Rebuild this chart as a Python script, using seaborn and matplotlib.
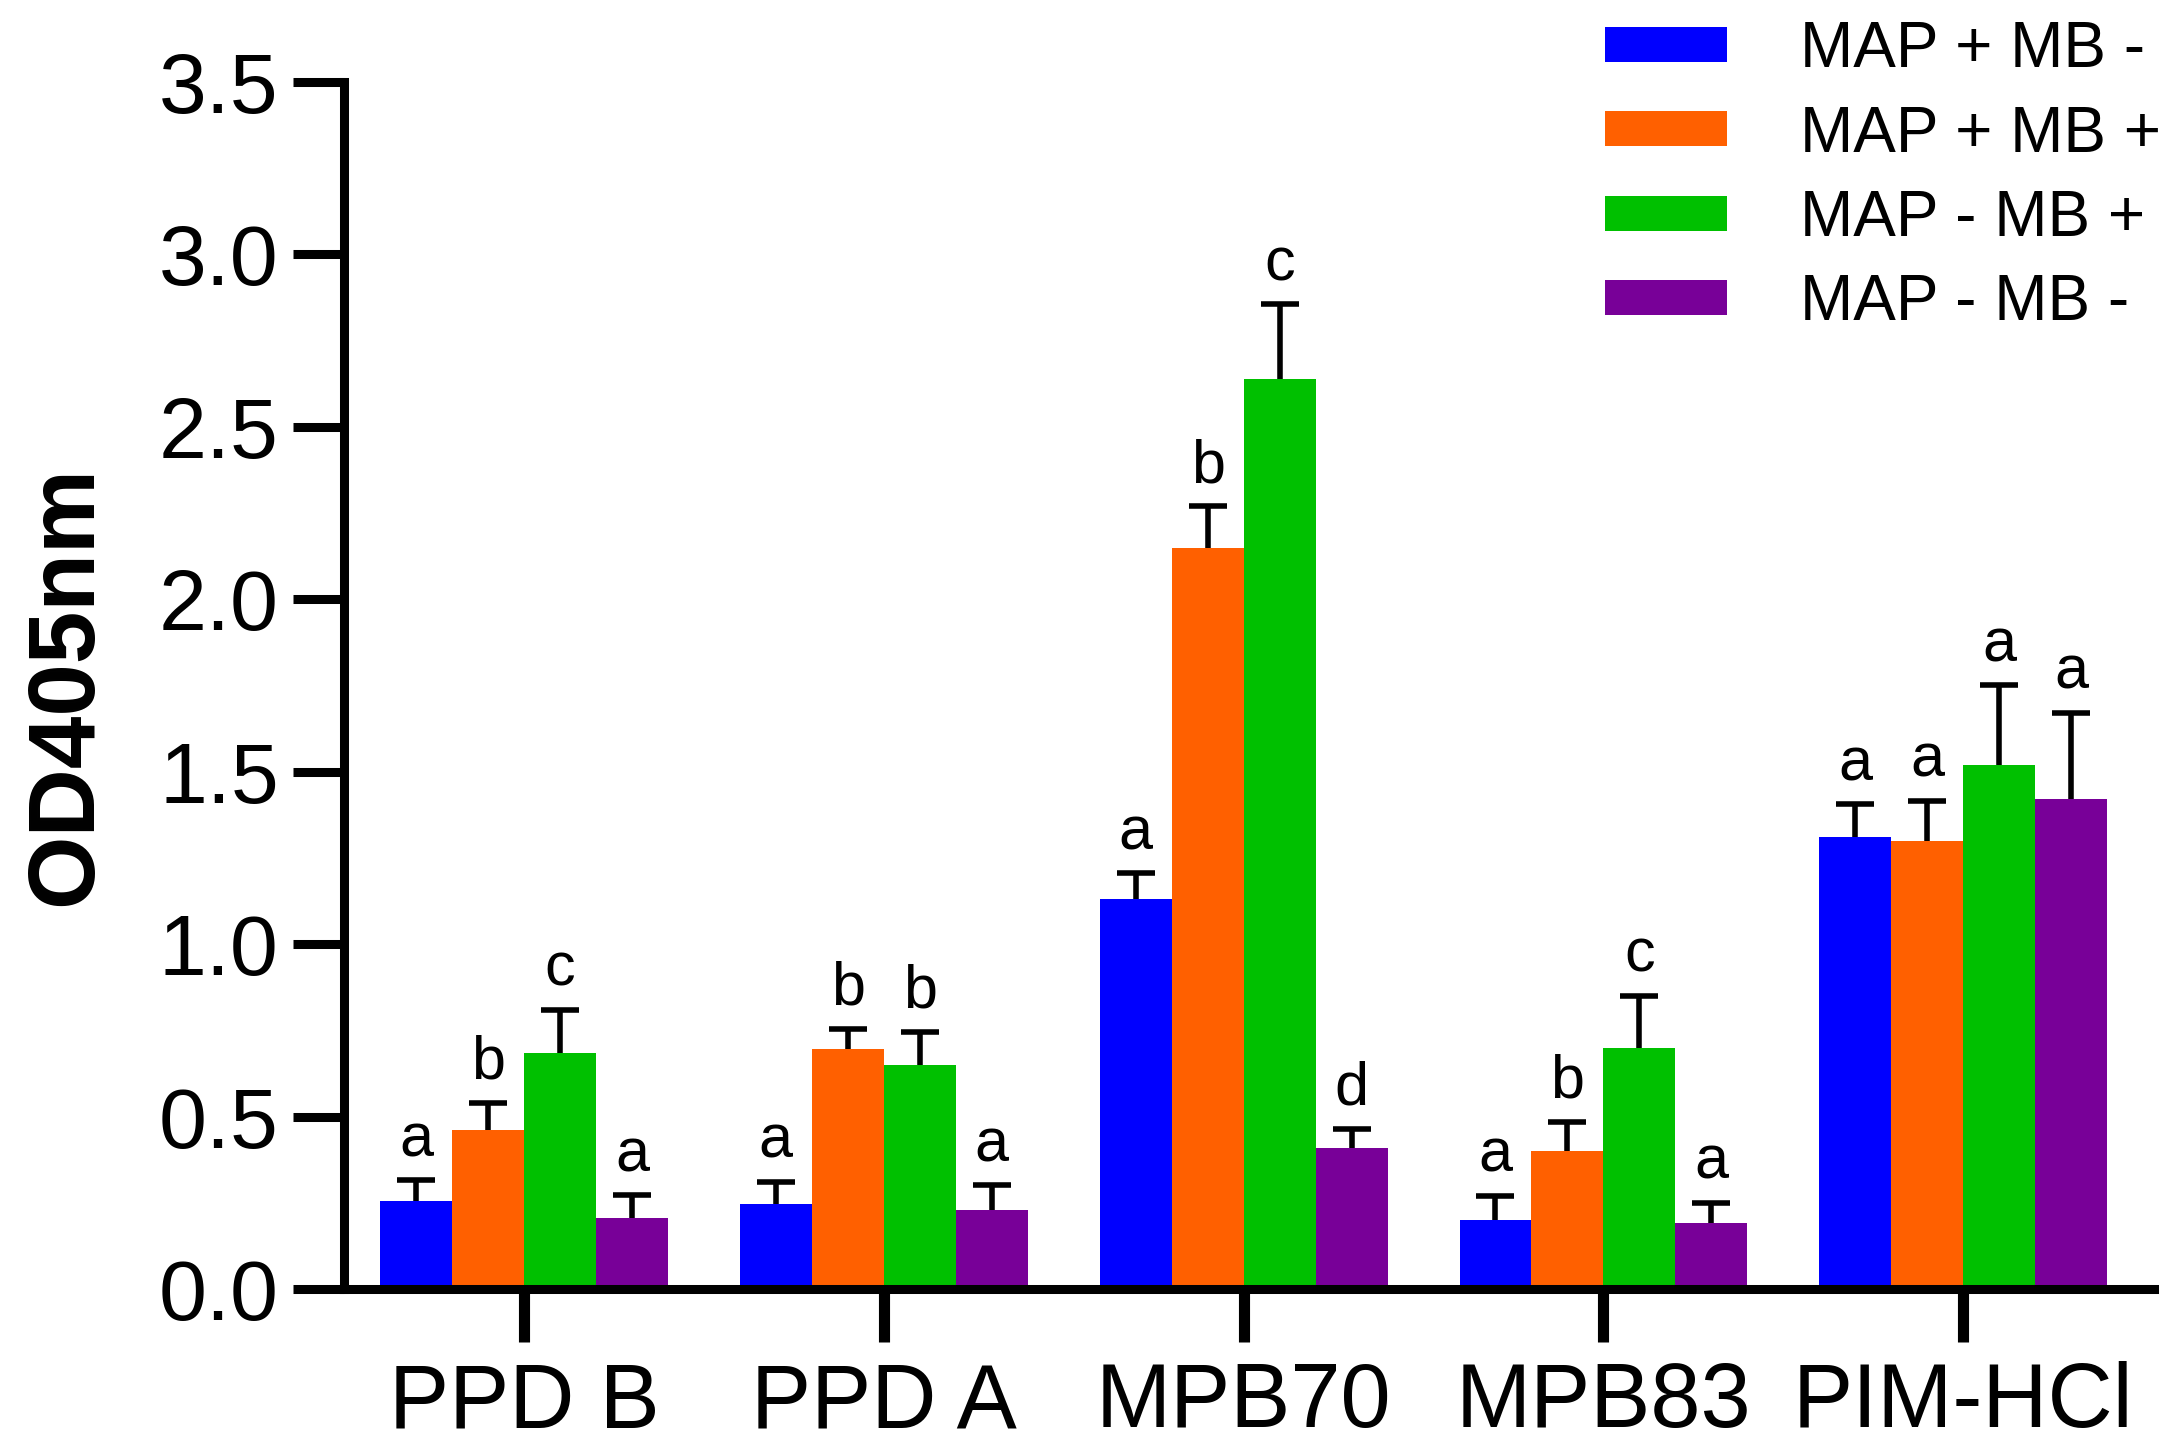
import numpy as np
import pandas as pd
import seaborn as sns
import matplotlib.pyplot as plt

antigens = ['PPD B', 'PPD A', 'MPB70', 'MPB83', 'PIM-HCl']
groups = ['MAP + MB -', 'MAP + MB +', 'MAP - MB +', 'MAP - MB -']
colors = ['#0000ff', '#ff6000', '#00c000', '#780098']

# mean OD per group, one list per group (order follows antigens)
map_pos_mb_neg = [0.255, 0.245, 1.13, 0.20, 1.31]
map_pos_mb_pos = [0.46, 0.695, 2.15, 0.40, 1.30]
map_neg_mb_pos = [0.685, 0.65, 2.64, 0.70, 1.52]
map_neg_mb_neg = [0.207, 0.23, 0.41, 0.19, 1.42]

# upper error (SD) per group
err_pos_neg = [0.06, 0.065, 0.075, 0.07, 0.095]
err_pos_pos = [0.08, 0.06, 0.12, 0.085, 0.115]
err_neg_pos = [0.125, 0.095, 0.215, 0.15, 0.23]
err_neg_neg = [0.065, 0.07, 0.055, 0.06, 0.25]

# significance letters
let_pos_neg = ['a', 'a', 'a', 'a', 'a']
let_pos_pos = ['b', 'b', 'b', 'b', 'a']
let_neg_pos = ['c', 'b', 'c', 'c', 'a']
let_neg_neg = ['a', 'a', 'd', 'a', 'a']

means = [map_pos_mb_neg, map_pos_mb_pos, map_neg_mb_pos, map_neg_mb_neg]
errs = [err_pos_neg, err_pos_pos, err_neg_pos, err_neg_neg]
letters = [let_pos_neg, let_pos_pos, let_neg_pos, let_neg_neg]

rows = []
for g, vals in zip(groups, means):
    for a, v in zip(antigens, vals):
        rows.append({'antigen': a, 'group': g, 'od': v})
df = pd.DataFrame(rows)

sns.set_style('ticks', rc={'axes.edgecolor': 'black', 'text.color': 'black',
                           'axes.labelcolor': 'black', 'xtick.color': 'black',
                           'ytick.color': 'black'})
plt.rcParams['font.family'] = ['Liberation Sans', 'DejaVu Sans']

fig = plt.figure(figsize=(21.72, 14.52), dpi=100)
ax = fig.add_axes([0.1584, 0.1123, 0.8333, 0.8312])

sns.barplot(data=df, x='antigen', y='od', hue='group', order=antigens,
            hue_order=groups, palette=colors, errorbar=None, width=0.8,
            saturation=1, linewidth=0, ax=ax)

# one-sided error bars and letters on top of each bar
for cont, err, lets in zip(ax.containers, errs, letters):
    xs = [p.get_x() + p.get_width() / 2 for p in cont.patches]
    ys = [p.get_height() for p in cont.patches]
    eb = ax.errorbar(xs, ys, yerr=[np.zeros(len(err)), err], fmt='none',
                     ecolor='black', elinewidth=4, capsize=14, capthick=4,
                     zorder=1)
    eb[1][0].set_visible(False)  # no cap at the bar top
    for x, y, e, l in zip(xs, ys, err, lets):
        ax.text(x, y + e + 0.07, l, ha='center', va='baseline', fontsize=44)

ax.set_ylim(0, 3.5)
ax.set_xlim(-0.5, 4.53)
ax.set_yticks(np.arange(0, 3.51, 0.5))
ax.set_yticklabels([f'{v:.1f}' for v in np.arange(0, 3.51, 0.5)])
ax.set_xlabel('')
ax.set_ylabel('OD405nm', fontsize=68, fontweight='bold', labelpad=34)

sns.despine(ax=ax)
for s in ['left', 'bottom']:
    ax.spines[s].set_linewidth(6.5)
ax.tick_params(axis='y', length=37, width=6.5, labelsize=62, pad=10)
ax.tick_params(axis='x', length=38, width=8, labelsize=65, pad=14)

handles, labels = ax.get_legend_handles_labels()
ax.legend(handles, labels, loc='upper right', bbox_to_anchor=(0.995, 0.986),
          bbox_transform=fig.transFigure, frameon=False, fontsize=46,
          handlelength=1.9, handleheight=0.47, handletextpad=1.15,
          labelspacing=0.38, borderpad=0, borderaxespad=0)

fig.savefig('out.png', dpi=100)
